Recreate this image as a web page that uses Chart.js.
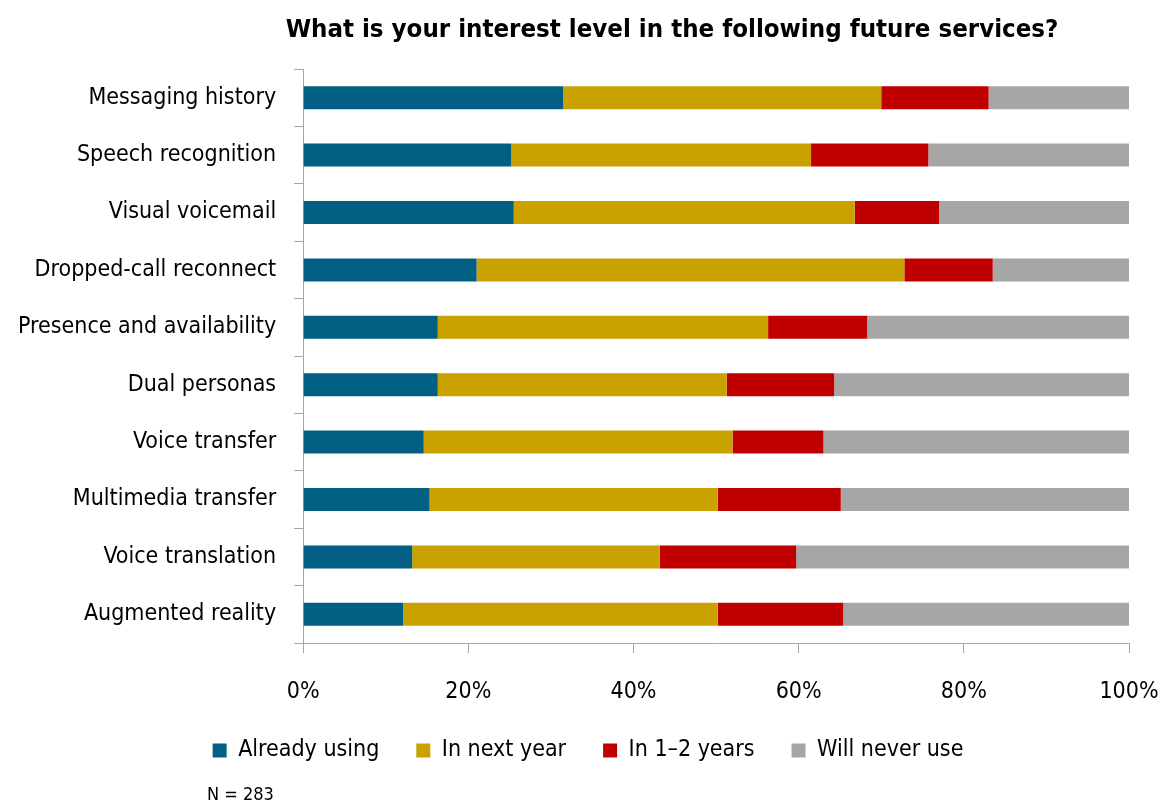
<!DOCTYPE html>
<html>
<head>
<meta charset="utf-8">
<script src="https://cdn.jsdelivr.net/npm/chart.js@4"></script>
<style>
  html, body { margin: 0; padding: 0; background: #fff; }
  #wrap { width: 1176px; height: 808px; position: relative; }
</style>
</head>
<body>
<div id="wrap"><canvas id="interestChart"></canvas></div>
<script>
const services = [
    'Messaging history',
    'Speech recognition',
    'Visual voicemail',
    'Dropped-call reconnect',
    'Presence and availability',
    'Dual personas',
    'Voice transfer',
    'Multimedia transfer',
    'Voice translation',
    'Augmented reality'
];
const alreadyUsing = [31.5, 25.2, 25.5, 21.0, 16.3, 16.3, 14.6, 15.3, 13.2, 12.1];
const inNextYear   = [38.5, 36.3, 41.3, 51.8, 40.0, 35.0, 37.4, 34.9, 30.0, 38.1];
const inOneToTwo   = [13.0, 14.2, 10.2, 10.7, 12.0, 13.0, 11.0, 14.9, 16.5, 15.2];
const neverUse     = [17.0, 24.3, 23.0, 16.5, 31.7, 35.7, 37.0, 34.9, 40.3, 34.6];
const xTicks = [0, 20, 40, 60, 80, 100];

const chartTitle = 'What is your interest level in the following future services?';
const sampleNote = 'N = 283';

const FONT = '"Liberation Sans Narrow", "Arial Narrow", "DejaVu Sans Condensed", "Liberation Sans", sans-serif';
const AXIS_GREY = '#a6a6a6';

// title and sample size are drawn on the canvas, outside the legend/title boxes
const extraText = {
    id: 'extraText',
    afterDraw(c) {
        const ctx = c.ctx;
        ctx.save();
        ctx.fillStyle = '#000';
        ctx.textBaseline = 'middle';
        ctx.font = 'bold 25.6px ' + FONT;
        ctx.textAlign = 'center';
        ctx.fillText(chartTitle, 672, 30);
        ctx.font = '18px ' + FONT;
        ctx.textAlign = 'left';
        ctx.fillText(sampleNote, 207, 795);
        ctx.restore();
    }
};

const ctx = document.getElementById('interestChart').getContext('2d');
const chart = new Chart(ctx, {
    type: 'bar',
    data: {
        labels: services,
        datasets: [
            { label: 'Already using', data: alreadyUsing, backgroundColor: '#005f83' },
            { label: 'In next year', data: inNextYear, backgroundColor: '#c9a200' },
            { label: 'In 1\u20132 years', data: inOneToTwo, backgroundColor: '#c00000' },
            { label: 'Will never use', data: neverUse, backgroundColor: '#a6a6a6' }
        ]
    },
    options: {
        indexAxis: 'y',
        responsive: true,
        maintainAspectRatio: false,
        animation: false,
        datasets: {
            bar: { barPercentage: 0.4, categoryPercentage: 1.0, borderWidth: 0 }
        },
        layout: {
            padding: { top: 69, left: 0, right: 0, bottom: 36 }
        },
        scales: {
            x: {
                stacked: true,
                min: 0,
                max: 100,
                afterBuildTicks: axis => {
                    axis.ticks = xTicks.map(v => ({ value: v }));
                },
                // fixed axis height so the wide legend padding does not push the plot up;
                // right room for "100%" is set here so the legend stays centred on the page
                afterFit: axis => {
                    axis.height = 59;
                    axis.paddingLeft = 0;
                    axis.paddingRight = 47;
                },
                grid: {
                    drawOnChartArea: false,
                    drawTicks: true,
                    tickLength: 10,
                    color: AXIS_GREY
                },
                border: { display: true, color: AXIS_GREY, width: 1 },
                ticks: {
                    callback: v => v + '%',
                    color: '#000',
                    padding: 25,
                    maxRotation: 0,
                    font: { family: FONT, size: 23 }
                }
            },
            y: {
                stacked: true,
                grid: {
                    drawOnChartArea: false,
                    drawTicks: true,
                    tickLength: 9,
                    color: AXIS_GREY
                },
                border: { display: true, color: AXIS_GREY, width: 1 },
                ticks: {
                    color: '#000',
                    padding: 18,
                    font: { family: FONT, size: 23 }
                }
            }
        },
        plugins: {
            legend: {
                position: 'bottom',
                labels: {
                    color: '#000',
                    boxWidth: 14,
                    boxHeight: 14,
                    padding: 37,
                    font: { family: FONT, size: 23 }
                }
            },
            tooltip: { enabled: false }
        }
    },
    plugins: [extraText]
});
</script>
</body>
</html>
